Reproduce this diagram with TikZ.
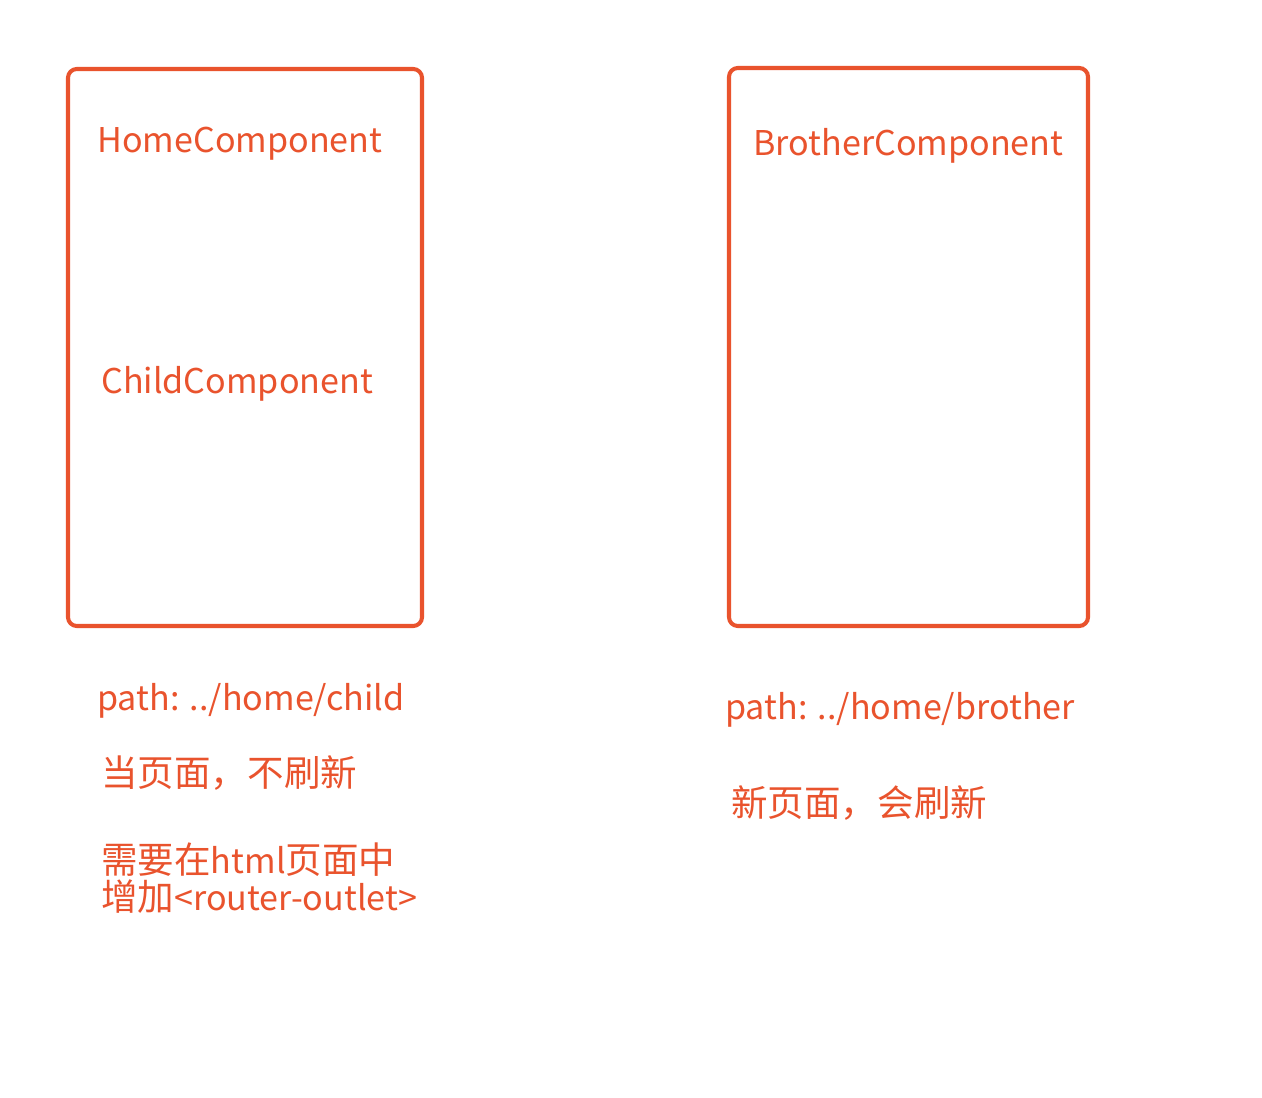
\documentclass[tikz,border=0pt]{standalone}
\usepackage{fontspec}
\setmainfont{Noto Sans CJK SC}
\usetikzlibrary{positioning}
\definecolor{routeorange}{RGB}{233,83,45}
\newcommand{\zh}[1]{{\fontsize{20.8}{23}\selectfont #1}}

\begin{document}
\begin{tikzpicture}[x=0.02cm,y=-0.02cm,
  comp/.style={draw=routeorange, line width=2.3pt, rounded corners=5pt},
  lbl/.style={anchor=west, inner sep=0pt, text=routeorange, font=\fontsize{19.4}{23}\selectfont},
  note/.style={lbl, align=left}]

% CANVAS
\useasboundingbox (0,0) rectangle (1262,1098);

% BOXES
\draw[comp] (68,69) rectangle (422,626);
\draw[comp] (729,68) rectangle (1088,626);

% LEFT SIDE
\node[lbl] (home)  at (97,144) {HomeComponent};
\node[lbl] (child) at (101,384) {ChildComponent};
\node[lbl] (pathL) at (97,701) {path: ../home/child};
\node[lbl] (noteL) at (101,773) {\zh{当页面，不刷新}};
\node[note] (need) at (101,878) {\zh{需要在}html\zh{页面中}\\[-2pt]\zh{增加}<router-outlet>};

% RIGHT SIDE
\node[lbl] (brother) at (753,146) {BrotherComponent};
\node[lbl] (pathR)   at (725,710) {path: ../home/brother};
\node[lbl] (noteR)   at (731,803) {\zh{新页面，会刷新}};

\end{tikzpicture}
\end{document}
